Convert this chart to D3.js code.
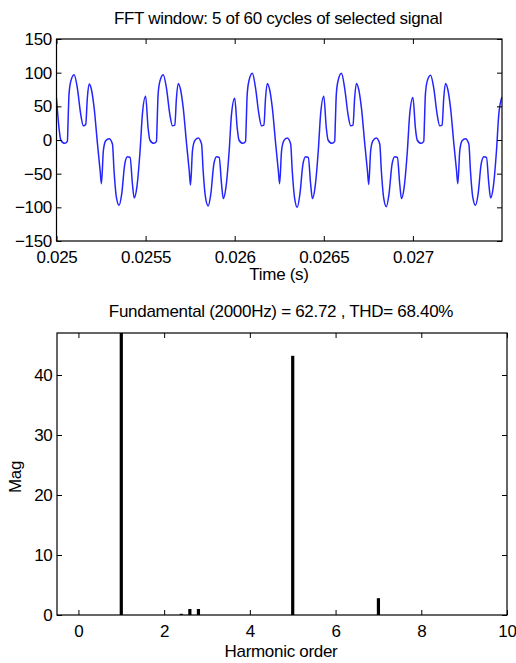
<!DOCTYPE html>
<html>
<head>
<meta charset="utf-8">
<script src="https://cdn.jsdelivr.net/npm/d3@7"></script>
<style>
  body { margin: 0; background: #fff; }
  svg text { font-family: "Liberation Sans", Arial, sans-serif; fill: #000; }
  .tick text { font-size: 17px; letter-spacing: -0.3px; }
  .lbl { font-size: 17px; letter-spacing: -0.3px; }
</style>
</head>
<body>
<svg id="chart" width="516" height="663"></svg>
<script>
// signal samples (time in microseconds, value)
const timeUs = [
  25000,25014,25024,25046,25061,25065,25070,25080,25099,25117,25136,25151,25164,25173,25183,25196,25211,25230,
  25245,25252,25263,25276,25295,25314,25323,25336,25351,25366,25383,25398,25413,25426,25436,25451,25469,25482,
  25500,25514,25524,25546,25561,25565,25570,25580,25599,25617,25636,25651,25664,25673,25683,25696,25711,25730,
  25745,25752,25763,25776,25795,25814,25823,25836,25851,25866,25883,25898,25913,25926,25936,25951,25969,25982,
  26000,26014,26024,26046,26061,26065,26070,26080,26099,26117,26136,26151,26164,26173,26183,26196,26211,26230,
  26245,26252,26263,26276,26295,26314,26323,26336,26351,26366,26383,26398,26413,26426,26436,26451,26469,26482,
  26500,26514,26524,26546,26561,26565,26570,26580,26599,26617,26636,26651,26664,26673,26683,26696,26711,26730,
  26745,26752,26763,26776,26795,26814,26823,26836,26851,26866,26883,26898,26913,26926,26936,26951,26969,26982,
  27000,27014,27024,27046,27061,27065,27070,27080,27099,27117,27136,27151,27164,27173,27183,27196,27211,27230,
  27245,27252,27263,27276,27295,27314,27323,27336,27351,27366,27383,27398,27413,27426,27436,27451,27469,27482,
  27500
];
const signal = [
  62,18,0,-5,-2,28,67,87,97,77,38,21,23,62,83,75,48,-6,
  -46,-65,-16,-1,2,-6,-46,-85,-97,-80,-36,-25,-26,-65,-86,-70,-16,38,
  65,18,0,-5,-2,28,67,87,97,77,38,21,22,62,84,75,48,-6,
  -46,-67,-16,-1,3,-6,-46,-85,-98,-80,-36,-25,-26,-65,-87,-70,-16,38,
  62,18,0,-5,-2,28,67,88,99,77,38,21,22,62,84,75,48,-6,
  -46,-65,-16,-1,3,-6,-46,-86,-100,-80,-36,-25,-26,-65,-87,-70,-16,38,
  65,18,0,-5,-2,28,67,88,99,77,38,21,22,62,84,75,48,-6,
  -46,-66,-16,-1,3,-6,-46,-86,-99,-80,-36,-25,-26,-65,-87,-70,-16,38,
  63,18,0,-5,-2,28,67,87,96,77,38,21,22,62,84,75,48,-6,
  -46,-65,-16,-1,2,-6,-46,-85,-97,-80,-36,-25,-26,-65,-86,-70,-16,38,
  64
];
const timeTicks = [0.025, 0.0255, 0.026, 0.0265, 0.027];
const timeTickLabels = ["0.025", "0.0255", "0.026", "0.0265", "0.027"];
const sigTicks = [-150, -100, -50, 0, 50, 100, 150];

// harmonic spectrum (bottom panel)
const harmOrder = [1, 2.4, 2.6, 2.8, 5, 7];
const harmMag = [62.72, 0.2, 1.0, 1.0, 43.2, 2.8];
const orderTicks = [0, 2, 4, 6, 8, 10];
const magTicks = [0, 10, 20, 30, 40];

const svg = d3.select('#chart');

// ---------- top panel ----------
const topBox = { x0: 56.5, x1: 502, y0: 39, y1: 241 };

const x1 = d3.scaleLinear().domain([0.025, 0.0275]).range([topBox.x0, topBox.x1]);
const y1 = d3.scaleLinear().domain([-150, 150]).range([topBox.y1, topBox.y0]);

svg.append('clipPath').attr('id', 'clipTop')
  .append('rect')
  .attr('x', topBox.x0).attr('y', topBox.y0)
  .attr('width', topBox.x1 - topBox.x0).attr('height', topBox.y1 - topBox.y0);

const pts = timeUs.map((t, i) => [t * 1e-6, signal[i]]);

const line = d3.line()
  .x(d => x1(d[0]))
  .y(d => y1(d[1]))
  .curve(d3.curveMonotoneX);

svg.append('path')
  .datum(pts)
  .attr('clip-path', 'url(#clipTop)')
  .attr('fill', 'none')
  .attr('stroke', '#2424ff')
  .attr('stroke-width', 1.5)
  .attr('d', line);

function frame(b, xs, ys, xt, xtl, yt) {
  svg.append('g')
    .attr('transform', `translate(0,${b.y1})`)
    .call(d3.axisBottom(xs).tickValues(xt).tickFormat((d, i) => xtl ? xtl[i] : d)
      .tickSizeInner(-5).tickSizeOuter(0).tickPadding(10))
    .call(g => g.select('.domain').remove());
  svg.append('g')
    .attr('transform', `translate(0,${b.y0})`)
    .call(d3.axisTop(xs).tickValues(xt).tickFormat('').tickSizeInner(-5).tickSizeOuter(0))
    .call(g => g.select('.domain').remove());
  svg.append('g')
    .attr('transform', `translate(${b.x0},0)`)
    .call(d3.axisLeft(ys).tickValues(yt).tickSizeInner(-5).tickSizeOuter(0).tickPadding(4.5))
    .call(g => g.select('.domain').remove());
  svg.append('g')
    .attr('transform', `translate(${b.x1},0)`)
    .call(d3.axisRight(ys).tickValues(yt).tickFormat('').tickSizeInner(-5).tickSizeOuter(0))
    .call(g => g.select('.domain').remove());
  svg.append('rect')
    .attr('x', b.x0).attr('y', b.y0)
    .attr('width', b.x1 - b.x0).attr('height', b.y1 - b.y0)
    .attr('fill', 'none').attr('stroke', '#000').attr('stroke-width', 1.2);
}

frame(topBox, x1, y1, timeTicks, timeTickLabels, sigTicks);

svg.append('text').attr('class', 'lbl')
  .attr('x', 278).attr('y', 24).attr('text-anchor', 'middle')
  .text('FFT window: 5 of 60 cycles of selected signal');
svg.append('text').attr('class', 'lbl')
  .attr('x', 279).attr('y', 280).attr('text-anchor', 'middle')
  .text('Time (s)');

// ---------- bottom panel ----------
const botBox = { x0: 57, x1: 507, y0: 333, y1: 615 };

const x2 = d3.scaleLinear().domain([-0.5, 10]).range([botBox.x0, botBox.x1]);
const y2 = d3.scaleLinear().domain([0, 47]).range([botBox.y1, botBox.y0]).clamp(true);

const barW = 3.2;
svg.append('g')
  .selectAll('rect')
  .data(harmOrder)
  .join('rect')
  .attr('x', d => x2(d) - barW / 2)
  .attr('width', barW)
  .attr('y', (d, i) => y2(harmMag[i]))
  .attr('height', (d, i) => y2(0) - y2(harmMag[i]))
  .attr('fill', '#000');

frame(botBox, x2, y2, orderTicks, null, magTicks);

svg.append('text').attr('class', 'lbl')
  .attr('x', 281).attr('y', 317).attr('text-anchor', 'middle')
  .text('Fundamental (2000Hz) = 62.72 , THD= 68.40%');
svg.append('text').attr('class', 'lbl')
  .attr('x', 281).attr('y', 657).attr('text-anchor', 'middle')
  .text('Harmonic order');
svg.append('text').attr('class', 'lbl')
  .attr('transform', 'translate(21,477) rotate(-90)')
  .attr('text-anchor', 'middle')
  .text('Mag');
</script>
</body>
</html>
